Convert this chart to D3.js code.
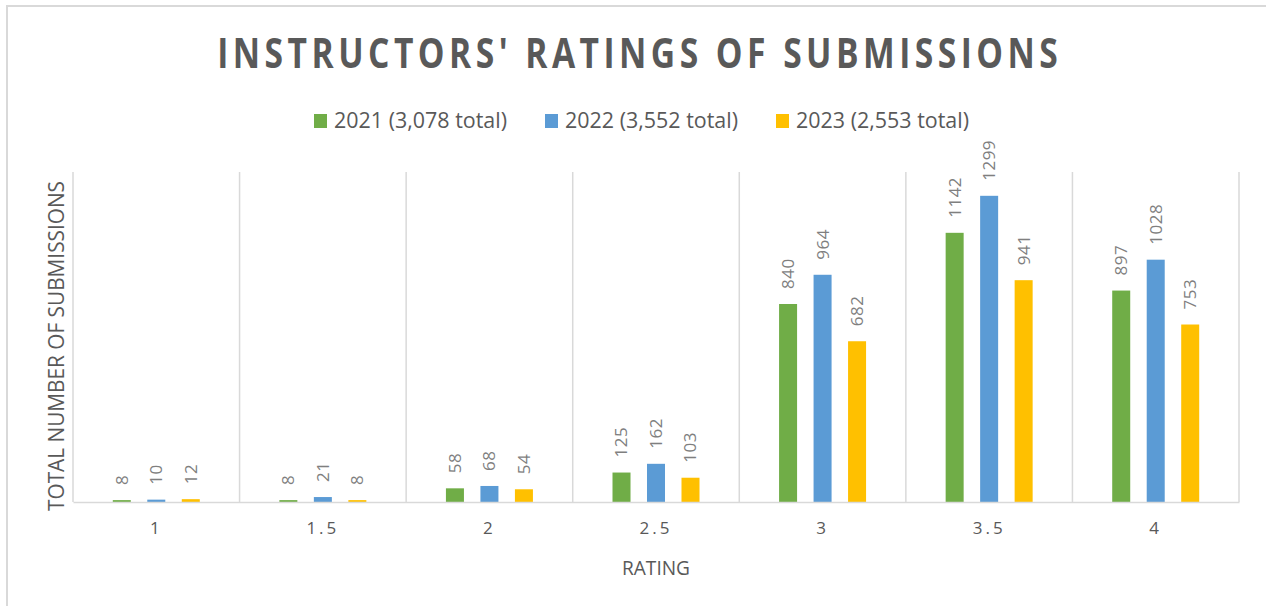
<!DOCTYPE html>
<html>
<head>
<meta charset="utf-8">
<script src="https://cdn.jsdelivr.net/npm/d3@7"></script>
<style>
  html, body { margin: 0; padding: 0; background: #fff; }
  svg { display: block; }
  text { font-family: "Open Sans", "DejaVu Sans", sans-serif; }
</style>
</head>
<body>
<svg id="chart" width="1266" height="606"></svg>
<script>
const categories = ["1", "1.5", "2", "2.5", "3", "3.5", "4"];
const seriesNames = ["2021 (3,078 total)", "2022 (3,552 total)", "2023 (2,553 total)"];
const values2021 = [8, 8, 58, 125, 840, 1142, 897];
const values2022 = [10, 21, 68, 162, 964, 1299, 1028];
const values2023 = [12, 8, 54, 103, 682, 941, 753];
const seriesColors = ["#70ad47", "#5b9bd5", "#ffc000"];
const yMax = 1400;
const titleText = "INSTRUCTORS' RATINGS OF SUBMISSIONS";

const series = [values2021, values2022, values2023].map((vals, i) => ({
  name: seriesNames[i], color: seriesColors[i], values: vals
}));

const svg = d3.select("#chart");
const plot = { left: 73, right: 1239, top: 172, bottom: 502 };

// border
svg.append("path")
  .attr("d", `M7,606 L7,6 L1266,6`)
  .attr("fill", "none").attr("stroke", "#d9d9d9").attr("stroke-width", 2);

const x = d3.scaleBand().domain(categories).range([plot.left, plot.right]).padding(0);
const cw = x.bandwidth();
const xInner = d3.scaleBand().domain(d3.range(series.length))
  .range([cw / 2 - 43.5, cw / 2 + 43.5]).paddingInner(0.478).paddingOuter(0);
const y = d3.scaleLinear().domain([0, yMax]).range([plot.bottom, plot.top]);

// vertical gridlines at category boundaries
const bounds = categories.map(c => x(c)).concat([plot.right]);
svg.append("g").selectAll("line").data(bounds).join("line")
  .attr("x1", d => d).attr("x2", d => d)
  .attr("y1", plot.top).attr("y2", plot.bottom)
  .attr("stroke", "#d9d9d9").attr("stroke-width", 1.5);

// bars
const groups = svg.append("g").selectAll("g").data(categories).join("g")
  .attr("transform", c => `translate(${x(c)},0)`);

series.forEach((s, si) => {
  groups.append("rect")
    .attr("x", xInner(si))
    .attr("width", xInner.bandwidth())
    .attr("y", (c, ci) => y(s.values[ci]))
    .attr("height", (c, ci) => plot.bottom - y(s.values[ci]))
    .attr("fill", s.color);
  groups.append("text")
    .attr("transform", (c, ci) => `translate(${xInner(si) + xInner.bandwidth() / 2},${y(s.values[ci]) - 15}) rotate(-90)`)
    .attr("dy", "0.35em")
    .attr("text-anchor", "start")
    .attr("font-size", 17)
    .attr("letter-spacing", "0.5px")
    .attr("fill", "#7f7f7f")
    .text((c, ci) => s.values[ci]);
});

// baseline axis
const xAxis = d3.axisBottom(x).tickSize(0).tickPadding(20);
const ax = svg.append("g").attr("transform", `translate(0,${plot.bottom})`).call(xAxis);
ax.select(".domain").attr("stroke", "#d9d9d9").attr("stroke-width", 1.5);
ax.selectAll("text")
  .attr("font-family", "'Open Sans', sans-serif")
  .attr("font-size", 17)
  .attr("letter-spacing", "3px")
  .attr("fill", "#595959");

// title: narrow glyphs with wide letter spacing
const titleScale = 0.8;
const titleG = svg.append("g").attr("transform", `translate(637.5,68) scale(${titleScale},1)`);
const title = titleG.append("text")
  .attr("text-anchor", "middle")
  .attr("font-size", 42).attr("font-weight", "bold")
  .attr("fill", "#595959")
  .text(titleText);
const natural = title.node().getComputedTextLength();
const ls = (845 / titleScale - natural) / titleText.length;
title.attr("letter-spacing", `${ls}px`).attr("x", ls / 2);

// legend
const legendPos = [
  { sx: 314, tx: 334, tw: 173 },
  { sx: 545, tx: 565, tw: 173 },
  { sx: 776, tx: 796, tw: 173 }
];
const lg = svg.append("g");
series.forEach((s, i) => {
  const p = legendPos[i];
  lg.append("rect").attr("x", p.sx).attr("y", 114).attr("width", 13).attr("height", 14).attr("fill", s.color);
  lg.append("text").attr("x", p.tx).attr("y", 128)
    .attr("font-size", 21).attr("fill", "#595959")
    .attr("textLength", p.tw).attr("lengthAdjust", "spacingAndGlyphs")
    .text(s.name);
});

// axis titles
svg.append("text")
  .attr("transform", `translate(64,346) rotate(-90)`)
  .attr("text-anchor", "middle")
  .attr("font-size", 22).attr("fill", "#595959")
  .attr("textLength", 330).attr("lengthAdjust", "spacingAndGlyphs")
  .text("TOTAL NUMBER OF SUBMISSIONS");

svg.append("text")
  .attr("x", (plot.left + plot.right) / 2).attr("y", 575)
  .attr("text-anchor", "middle")
  .attr("font-size", 20).attr("fill", "#595959")
  .attr("textLength", 68).attr("lengthAdjust", "spacingAndGlyphs")
  .text("RATING");
</script>
</body>
</html>
